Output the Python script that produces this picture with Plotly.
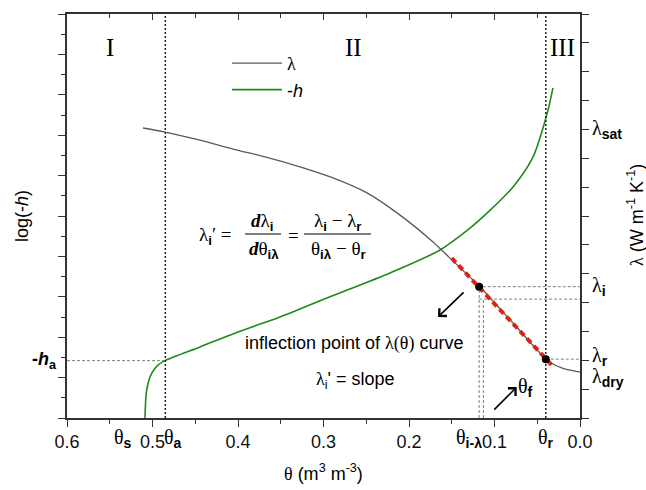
import plotly.graph_objects as go

# ---------------- data ----------------
# thermal conductivity curve lambda(theta)  (right axis units)
theta_lam = [0.5111, 0.4854, 0.4444, 0.4058, 0.3661, 0.3275, 0.2889, 0.2491,
             0.2105, 0.1719, 0.1520, 0.1170, 0.0784, 0.0398, 0.0316, 0.0199, 0.0]
lam = [10.05, 9.91, 9.63, 9.32, 9.03, 8.70, 8.32, 7.80,
       7.03, 6.10, 5.54, 4.54, 3.29, 2.04, 1.87, 1.72, 1.59]

# water retention curve log(-h) (left axis units)
theta_h = [0.5088, 0.5068, 0.5009, 0.4936, 0.4854, 0.4444, 0.4000, 0.3509,
           0.2924, 0.2222, 0.1637, 0.1287, 0.1088, 0.0784, 0.0550, 0.0433,
           0.0374, 0.0316]
logh = [0.0, 0.69, 1.11, 1.31, 1.42, 1.76, 2.13, 2.50,
        3.00, 3.59, 4.16, 4.70, 5.07, 5.72, 6.46, 7.18,
        7.62, 8.17]

# tangent (slope) segment
red_theta = [0.150, 0.031]
red_lam = [5.54, 1.77]

# characteristic points
theta_s = 0.534
theta_a = 0.485
h_a = 1.42
theta_i = 0.118
lam_i = 4.55
theta_il = 0.113
lam_il = 4.12
theta_r = 0.040
lam_r = 2.04
lam_sat = 10.0
lam_dry = 1.40

x_ticks = [0.6, 0.5, 0.4, 0.3, 0.2, 0.1, 0.0]
x_ticktext = ["0.6", "0.5", "0.4", "0.3", "0.2", "0.1", "0.0"]

# ---------------- figure ----------------
W, H = 646, 490
L, R, T, B = 67, 66, 14, 72
PW, PH = W - L - R, H - T - B

def px(xp):
    return (xp - L) / PW

def py(yp):
    return (H - B - yp) / PH

SERIF = "Liberation Serif"
SANS = "Liberation Sans"
AX = "#333333"

fig = go.Figure()

fig.add_trace(go.Scatter(x=theta_lam, y=lam, yaxis="y2", mode="lines",
                         line=dict(color="#5a5a5a", width=1.3, shape="spline", smoothing=0.7),
                         name="<span style=\"font-family:'Liberation Serif'\">λ</span>"))
fig.add_trace(go.Scatter(x=theta_h, y=logh, yaxis="y", mode="lines",
                         line=dict(color="#1e8a1e", width=1.6, shape="spline", smoothing=0.8),
                         name="-<i>h</i>"))

# guide lines (thin gray dashed)
guide = dict(color="#808080", width=1, dash="3px,2px")
fig.add_trace(go.Scatter(x=[0.6, theta_a], y=[h_a, h_a], yaxis="y", mode="lines",
                         line=guide, showlegend=False, hoverinfo="skip"))
fig.add_trace(go.Scatter(x=[theta_i, theta_i, 0.0], y=[0, lam_i, lam_i], yaxis="y2",
                         mode="lines", line=guide, showlegend=False, hoverinfo="skip"))
fig.add_trace(go.Scatter(x=[theta_il, theta_il, None, theta_i, 0.0],
                         y=[0, lam_il, None, lam_il, lam_il], yaxis="y2",
                         mode="lines", line=guide, showlegend=False, hoverinfo="skip"))
fig.add_trace(go.Scatter(x=[theta_r, 0.0], y=[lam_r, lam_r], yaxis="y2",
                         mode="lines", line=guide, showlegend=False, hoverinfo="skip"))

# vertical dotted boundaries
for tv in [theta_a, theta_r]:
    fig.add_trace(go.Scatter(x=[tv, tv], y=[0, 10], yaxis="y", mode="lines",
                             line=dict(color="#222222", width=1.5, dash="2px,2px"),
                             showlegend=False, hoverinfo="skip"))

# tangent red dashed
fig.add_trace(go.Scatter(x=red_theta, y=red_lam, yaxis="y2", mode="lines",
                         line=dict(color="#dd2211", width=4, dash="6px,4px"),
                         showlegend=False, hoverinfo="skip"))
# points
fig.add_trace(go.Scatter(x=[theta_i, theta_r], y=[lam_i, lam_r], yaxis="y2", mode="markers",
                         marker=dict(color="black", size=8), showlegend=False, hoverinfo="skip"))

ann = []

def A(text, x, y, xref="paper", yref="paper", size=18, family=SANS, **kw):
    d = dict(text=text, x=x, y=y, xref=xref, yref=yref, showarrow=False,
             xanchor="center", yanchor="middle",
             font=dict(size=size, family=family, color="black"))
    d.update(kw)
    ann.append(d)

def sub_b(s):
    return "<sub><span style=\"font-family:'Liberation Sans'\"><b>%s</b></span></sub>" % s

# region numerals
A("I", 0.55, py(48), xref="x", size=25, family=SERIF)
A("II", 0.2655, py(48), xref="x", size=25, family=SERIF)
A("III", 0.021, py(48), xref="x", size=25, family=SERIF)

# formula
A("λ" + sub_b("i") + "′ =", px(197), py(236), size=19, family=SERIF, xanchor="left")
A("<b><i>d</i></b>λ" + sub_b("i"), px(262), py(222), size=19, family=SERIF)
A("<b><i>d</i></b>θ" + sub_b("iλ"), px(264), py(250), size=19, family=SERIF)
A("=", px(293), py(235), size=19, family=SERIF)
A("λ" + sub_b("i") + " − λ" + sub_b("r"), px(338), py(222), size=19, family=SERIF)
A("θ" + sub_b("iλ") + " − θ" + sub_b("r"), px(338), py(250), size=19, family=SERIF)

shapes = [
    dict(type="line", xref="paper", yref="paper", x0=px(245), x1=px(281), y0=py(234), y1=py(234),
         line=dict(color="black", width=1.2)),
    dict(type="line", xref="paper", yref="paper", x0=px(304), x1=px(371), y0=py(234), y1=py(234),
         line=dict(color="black", width=1.2)),
]

# text notes
A("inflection point of <span style=\"font-family:'Liberation Serif'\">λ(θ)</span> curve",
  px(354), py(343), size=18)
A("<span style=\"font-family:'Liberation Serif'\">λ</span><sub>i</sub>' = slope",
  px(355), py(380), size=18)

# arrows
ann.append(dict(x=0.1660, y=3.50, xref="x", yref="y2", ax=27, ay=-26, showarrow=True,
                arrowhead=4, arrowsize=1.3, arrowwidth=1.6, arrowcolor="black", text=""))
ann.append(dict(x=0.0740, y=1.07, xref="x", yref="y2", ax=-24, ay=24, showarrow=True,
                arrowhead=4, arrowsize=1.3, arrowwidth=1.6, arrowcolor="black", text=""))
A("θ" + sub_b("f"), 0.075, 1.05, xref="x", yref="y2", size=20, family=SERIF, xanchor="left")

# x-axis symbolic labels
A("θ" + sub_b("s"), theta_s, 0, xref="x", size=20, family=SERIF, yshift=-20)
A("θ" + sub_b("a"), theta_a, 0, xref="x", size=20, family=SERIF,
  xanchor="left", xshift=-3, yshift=-20)
A("θ" + sub_b("i-λ"), 0.1, 0, xref="x", size=20, family=SERIF,
  xanchor="right", xshift=-11, yshift=-20)
A("θ" + sub_b("r"), theta_r, 0, xref="x", size=20, family=SERIF, yshift=-20)

# right-side lambda labels
A("λ" + sub_b("sat"), 1, lam_sat, yref="y2", size=20, family=SERIF, xanchor="left", xshift=10)
A("λ" + sub_b("i"), 1, lam_i, yref="y2", size=20, family=SERIF, xanchor="left", xshift=10)
A("λ" + sub_b("r"), 1, lam_r, yref="y2", size=20, family=SERIF, xanchor="left", xshift=10, yshift=3)
A("λ" + sub_b("dry"), 1, lam_dry, yref="y2", size=20, family=SERIF, xanchor="left", xshift=10)

# left -h_a label
A("<b>-<i>h</i></b><sub><b>a</b></sub>", 0, h_a, yref="y", size=18, xanchor="right", xshift=-8)

# axis titles
A("<span style=\"font-family:'Liberation Serif'\">θ</span> (m<sup>3</sup> m<sup>-3</sup>)",
  px(323), py(472), size=18)
A("log(-<i>h</i>)", px(22), py(216), size=18, textangle=-90)
A("<span style=\"font-family:'Liberation Serif'\">λ</span> (W m<sup>-1</sup> K<sup>-1</sup>)",
  px(635), py(215), size=18, textangle=-90)

axis_common = dict(showline=True, linecolor=AX, linewidth=1.5, showgrid=False, zeroline=False,
                   tickcolor=AX, tickwidth=1.3)

fig.update_layout(
    width=W, height=H,
    margin=dict(l=L, r=R, t=T, b=B, pad=0),
    paper_bgcolor="white", plot_bgcolor="white",
    showlegend=True,
    legend=dict(x=px(227), y=py(45), xanchor="left", yanchor="top",
                bgcolor="rgba(0,0,0,0)", font=dict(size=18, family=SANS, color="black"),
                tracegroupgap=0, itemwidth=50),
    xaxis=dict(range=[0.6, 0.0], tickvals=x_ticks, ticktext=x_ticktext, ticks="outside",
               ticklen=7, tickfont=dict(size=18, family=SANS, color="#111"),
               minor=dict(dtick=0.05, tick0=0, ticks="outside", ticklen=4, tickcolor=AX, tickwidth=1.3),
               **axis_common),
    xaxis2=dict(range=[0.6, 0.0], overlaying="x", side="top", anchor="y", ticks="inside",
                tickvals=x_ticks, showticklabels=False, ticklen=6,
                minor=dict(dtick=0.05, tick0=0, ticks="inside", ticklen=4, tickcolor=AX, tickwidth=1.3),
                **axis_common),
    yaxis=dict(range=[0, 10], dtick=1, tick0=0, ticks="outside", ticklen=7, showticklabels=False,
               minor=dict(dtick=0.5, tick0=0, ticks="outside", ticklen=4, tickcolor=AX, tickwidth=1.3),
               **axis_common),
    yaxis2=dict(range=[0, 14], dtick=1, tick0=0, overlaying="y", side="right", anchor="x",
                ticks="outside", ticklen=7, showticklabels=False, **axis_common),
    annotations=ann,
    shapes=shapes,
)

# dummy trace to activate top axis
fig.add_trace(go.Scatter(x=[0.3], y=[5], xaxis="x2", yaxis="y", mode="markers",
                         marker=dict(opacity=0), showlegend=False, hoverinfo="skip"))

fig.write_html("out.html")
